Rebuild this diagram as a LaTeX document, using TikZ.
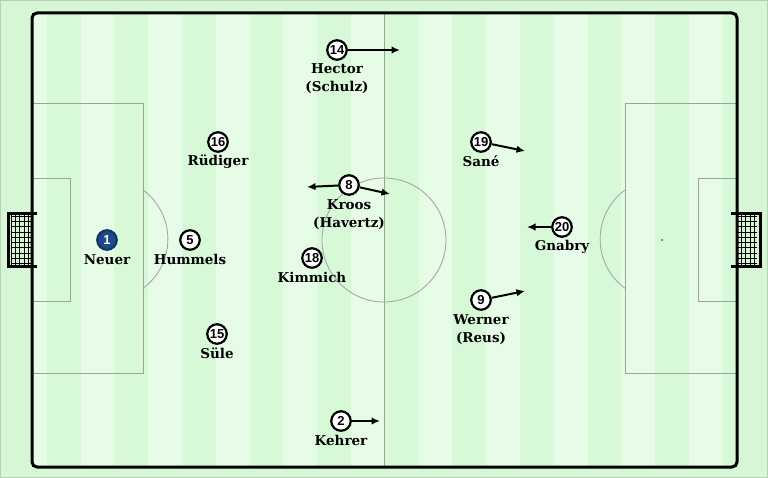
\documentclass[tikz,border=0pt]{standalone}
\usepackage{fontspec}
\setmainfont{DejaVu Serif}
\newfontfamily\numfont{Liberation Sans}
\usetikzlibrary{arrows.meta}
\definecolor{outside}{HTML}{D6F6D6}
\definecolor{stripelight}{HTML}{E6FCE6}
\definecolor{stripedark}{HTML}{D8F9D8}
\definecolor{fieldline}{HTML}{A0A0A0}
\definecolor{keeper}{HTML}{1E4A8A}

\begin{document}
\begin{tikzpicture}[x=1pt,y=-1pt,
  player/.style={circle, draw=black, line width=2.2pt, fill=white, minimum size=19.5pt, inner sep=0pt, font=\numfont\bfseries\fontsize{13}{13}\selectfont},
  goalie/.style={player, fill=keeper, draw=keeper!70!black, text=white},
  playername/.style={font=\bfseries\fontsize{13.5}{18}\selectfont, align=center, inner sep=0pt},
  run/.style={line width=2pt, -{Latex[length=8.5pt,width=7.5pt]}},
  pitchline/.style={draw=fieldline, line width=0.8pt}]
  \useasboundingbox (0,0) rectangle (768,478);
  \fill[outside] (0,0) rectangle (768,478);
  \draw[outside!85!black, line width=1pt] (0.5,0.5) rectangle (767.5,477.5);

  % stripes
  \begin{scope}
    \clip[rounded corners=5pt] (32,13) rectangle (737,467);
    \fill[stripedark] (13,13) rectangle (757,467);
    \foreach \i in {0,2,...,20}
      \fill[stripelight] ({13+\i*33.8},13) rectangle ++(33.8,454);
  \end{scope}

  % markings
  \draw[pitchline] (384,13) -- (384,467);
  \draw[pitchline] (384,240) circle[radius=62];
  \draw[pitchline] (32,103) -- (143,103) -- (143,373) -- (32,373);
  \draw[pitchline] (32,178) -- (70,178) -- (70,301) -- (32,301);
  \draw[pitchline] (143,190) arc[start angle=-53.7, end angle=53.7, radius=61];
  \draw[pitchline] (737,103) -- (625,103) -- (625,373) -- (737,373);
  \draw[pitchline] (737,178) -- (698,178) -- (698,301) -- (737,301);
  \draw[pitchline] (625,190) arc[start angle=233.7, end angle=126.3, radius=61];
  \fill[black!70] (662,240) circle[radius=1];
  \fill[black!70] (107,240) circle[radius=1];

  % goals
  \begin{scope}
    \clip (11,216) rectangle (32,266);
    \foreach \i in {0,...,5} \draw[line width=0.6pt] ({11+\i*4.3},213) -- ++(0,56);
    \foreach \i in {0,...,9} \draw[line width=0.6pt] (8,{216+\i*5.3}) -- ++(26,0);
  \end{scope}
  \draw[line width=3pt] (37,214) -- (8,214) -- (8,267) -- (37,267);
  \begin{scope}
    \clip (737,216) rectangle (757,266);
    \foreach \i in {0,...,5} \draw[line width=0.6pt] ({737+\i*4.3},213) -- ++(0,56);
    \foreach \i in {0,...,9} \draw[line width=0.6pt] (735,{216+\i*5.3}) -- ++(26,0);
  \end{scope}
  \draw[line width=3pt] (731,214) -- (760,214) -- (760,267) -- (731,267);

  % field border
  \draw[line width=3pt, rounded corners=5pt] (32,13) rectangle (737,467);

  % players
  \node[goalie] (neuer) at (107,240) {1};
  \node[player] (hummels) at (190,240) {5};
  \node[player] (ruediger) at (218,142) {16};
  \node[player] (suele) at (217,334) {15};
  \node[player] (kimmich) at (312,258) {18};
  \node[player] (kroos) at (349,185) {8};
  \node[player] (hector) at (337,50) {14};
  \node[player] (kehrer) at (341,421) {2};
  \node[player] (sane) at (481,142) {19};
  \node[player] (gnabry) at (562,227) {20};
  \node[player] (werner) at (481,300) {9};

  % names
  \node[playername] (neuerName) at (107,259.5) {Neuer};
  \node[playername] (hummelsName) at (190,259.5) {Hummels};
  \node[playername] (ruedigerName) at (218,161.5) {Rüdiger};
  \node[playername] (sueleName) at (217,353.5) {Süle};
  \node[playername] (kimmichName) at (312,277.5) {Kimmich};
  \node[playername] (kroosName) at (349,215) {Kroos\\(Havertz)};
  \node[playername] (hectorName) at (337,79) {Hector\\(Schulz)};
  \node[playername] (kehrerName) at (341,440.5) {Kehrer};
  \node[playername] (saneName) at (481,161.5) {Sané};
  \node[playername] (gnabryName) at (562,246.5) {Gnabry};
  \node[playername] (wernerName) at (481,330) {Werner\\(Reus)};

  % runs
  \coordinate (hectorRun) at (400,50);
  \coordinate (kehrerRun) at (380,421);
  \coordinate (saneRun) at (525,151);
  \coordinate (gnabryRun) at (527,227);
  \coordinate (wernerRun) at (525,291);
  \coordinate (kroosLeft) at (307,187);
  \coordinate (kroosRight) at (390,194);
  \draw[run] (hector) -- (hectorRun);
  \draw[run] (kehrer) -- (kehrerRun);
  \draw[run] (sane) -- (saneRun);
  \draw[run] (gnabry) -- (gnabryRun);
  \draw[run] (werner) -- (wernerRun);
  \draw[run] (kroos) -- (kroosLeft);
  \draw[run] (kroos) -- (kroosRight);
\end{tikzpicture}
\end{document}
